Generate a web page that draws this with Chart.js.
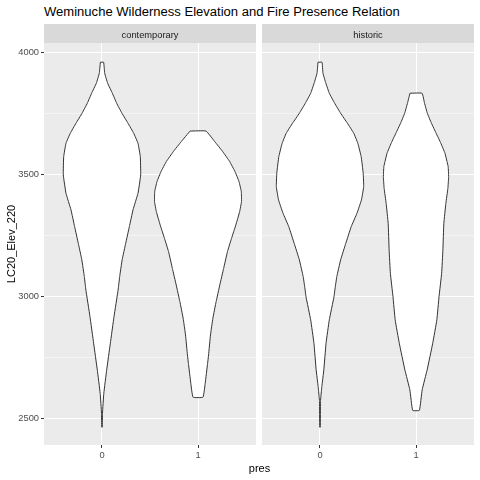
<!DOCTYPE html>
<html>
<head>
<meta charset="utf-8">
<title>Weminuche Wilderness Elevation and Fire Presence Relation</title>
<script src="https://cdn.jsdelivr.net/npm/chart.js@4"></script>
<style>
  html, body { margin: 0; padding: 0; background: #fff; }
  body { width: 480px; height: 480px; position: relative; overflow: hidden; font-family: "Liberation Sans", Arial, sans-serif; }
  canvas { position: absolute; top: 0; }
  #plot-title { position: absolute; left: 44px; top: 3px; font-size: 13.05px; line-height: 18px; color: #000; white-space: nowrap; }
  #x-title { position: absolute; left: 0; width: 519px; top: 461px; text-align: center; font-size: 11px; line-height: 14px; color: #000; }
</style>
</head>
<body>
<div id="plot-title">Weminuche Wilderness Elevation and Fire Presence Relation</div>
<canvas id="panel-contemporary" width="259" height="480" style="left:0"></canvas>
<canvas id="panel-historic" width="221" height="480" style="left:259px"></canvas>
<div id="x-title">pres</div>

<script>
var yTicks = [2500, 2750, 3000, 3250, 3500, 3750, 4000];
var yLabels = ['2500', '', '3000', '', '3500', '', '4000'];
var xTicks = [0, 1];

// contemporary, pres = 0
var contemp0Elev = [3960, 3915, 3874, 3833, 3792, 3751, 3710, 3669, 3628, 3573, 3498, 3423, 3355, 3286, 3218, 3150, 3081, 3027, 2917, 2808, 2699, 2603, 2521, 2464];
var contemp0Width = [0.017, 0.028, 0.059, 0.108, 0.153, 0.208, 0.271, 0.330, 0.375, 0.399, 0.403, 0.375, 0.323, 0.285, 0.247, 0.210, 0.184, 0.168, 0.125, 0.087, 0.049, 0.019, 0.005, 0.003];
// contemporary, pres = 1
var contemp1Elev = [3678, 3635, 3594, 3553, 3512, 3471, 3430, 3389, 3348, 3293, 3238, 3184, 3115, 3047, 2979, 2911, 2842, 2760, 2726, 2644, 2587];
var contemp1Width = [0.083, 0.174, 0.257, 0.330, 0.385, 0.427, 0.451, 0.453, 0.434, 0.394, 0.349, 0.307, 0.267, 0.227, 0.189, 0.155, 0.130, 0.110, 0.100, 0.075, 0.052];
// historic, pres = 0
var historic0Elev = [3960, 3915, 3874, 3833, 3792, 3751, 3710, 3669, 3628, 3573, 3505, 3450, 3396, 3341, 3286, 3218, 3150, 3081, 3027, 2999, 2904, 2808, 2699, 2630, 2569, 2464];
var historic0Width = [0.021, 0.031, 0.061, 0.097, 0.153, 0.215, 0.286, 0.352, 0.394, 0.429, 0.450, 0.455, 0.432, 0.385, 0.325, 0.269, 0.215, 0.175, 0.155, 0.146, 0.097, 0.063, 0.040, 0.019, 0.005, 0.003];
// historic, pres = 1
var historic1Elev = [3833, 3792, 3751, 3710, 3669, 3628, 3587, 3553, 3532, 3491, 3443, 3382, 3300, 3191, 3095, 3000, 2904, 2808, 2699, 2617, 2533];
var historic1Width = [0.063, 0.089, 0.118, 0.161, 0.210, 0.259, 0.302, 0.323, 0.335, 0.340, 0.332, 0.311, 0.290, 0.280, 0.267, 0.240, 0.217, 0.174, 0.116, 0.064, 0.035];

function violin(pres, elev, width) {
  var pts = [];
  elev.forEach(function(e, i) { pts.push({ x: pres - width[i], y: e }); });
  for (var i = elev.length - 1; i >= 0; i--) pts.push({ x: pres + width[i], y: elev[i] });
  pts.push(pts[0]);
  return {
    data: pts,
    showLine: true,
    fill: 'shape',
    backgroundColor: '#ffffff',
    borderColor: '#333333',
    borderWidth: 1,
    tension: 0.1,
    pointRadius: 0
  };
}

// grey panel and strip on top of it
var facetPlugin = {
  id: 'facet',
  beforeDraw: function(chart, args, opts) {
    var a = chart.chartArea, ctx = chart.ctx;
    ctx.save();
    ctx.fillStyle = '#ebebeb';
    ctx.fillRect(a.left, a.top, a.right - a.left, a.bottom - a.top);
    ctx.fillStyle = '#d9d9d9';
    ctx.fillRect(a.left, 24, a.right - a.left, a.top - 24);
    ctx.fillStyle = '#1a1a1a';
    ctx.font = '9.3px "Liberation Sans", Arial, sans-serif';
    ctx.textAlign = 'center';
    ctx.textBaseline = 'middle';
    ctx.fillText(opts.label, (a.left + a.right) / 2, 35);
    ctx.restore();
  }
};

function makePanel(id, label, datasets, isFirst) {
  return new Chart(document.getElementById(id), {
    type: 'scatter',
    data: { datasets: datasets },
    plugins: [facetPlugin],
    options: {
      responsive: false,
      animation: false,
      layout: { padding: { top: 43, right: isFirst ? 3 : 6, left: 0, bottom: 0 } },
      plugins: {
        legend: { display: false },
        tooltip: { enabled: false },
        title: { display: false },
        facet: { label: label }
      },
      scales: {
        x: {
          type: 'linear',
          min: -0.604,
          max: 1.604,
          afterBuildTicks: function(s) { s.ticks = xTicks.map(function(v) { return { value: v }; }); },
          afterFit: function(s) { s.height = 35; },
          border: { display: false },
          grid: { color: '#ffffff', lineWidth: 1, tickColor: '#333333', tickLength: 3 },
          ticks: {
            color: '#4d4d4d', padding: 2, maxRotation: 0, autoSkip: false,
            font: { family: '"Liberation Sans", Arial, sans-serif', size: 9.3 },
            callback: function(v) { return String(v); }
          }
        },
        y: {
          type: 'linear',
          min: 2391,
          max: 4039,
          afterBuildTicks: function(s) { s.ticks = yTicks.map(function(v) { return { value: v }; }); },
          afterFit: function(s) { s.width = isFirst ? 44 : 3; },
          border: { display: false },
          title: {
            display: isFirst,
            text: 'LC20_Elev_220',
            color: '#000000',
            padding: { top: 5, bottom: 0 },
            font: { family: '"Liberation Sans", Arial, sans-serif', size: 11 }
          },
          grid: {
            color: '#ffffff',
            lineWidth: function(c) { return yLabels[yTicks.indexOf(c.tick.value)] ? 1 : 0.5; },
            tickColor: function(c) { return (isFirst && yLabels[yTicks.indexOf(c.tick.value)]) ? '#333333' : 'rgba(0,0,0,0)'; },
            tickLength: isFirst ? 3 : 0
          },
          ticks: {
            display: isFirst,
            color: '#4d4d4d', padding: 2, autoSkip: false,
            font: { family: '"Liberation Sans", Arial, sans-serif', size: 9.3 },
            callback: function(v) { return yLabels[yTicks.indexOf(v)]; }
          }
        }
      }
    }
  });
}

makePanel('panel-contemporary', 'contemporary', [
  violin(0, contemp0Elev, contemp0Width),
  violin(1, contemp1Elev, contemp1Width)
], true);

makePanel('panel-historic', 'historic', [
  violin(0, historic0Elev, historic0Width),
  violin(1, historic1Elev, historic1Width)
], false);
</script>
</body>
</html>
